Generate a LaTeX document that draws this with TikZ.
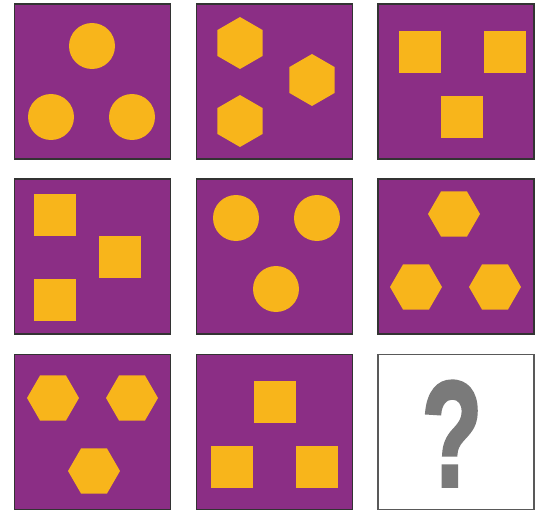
\documentclass[tikz,border=0pt]{standalone}
\usepackage{fontspec}
\usetikzlibrary{shapes.geometric}
\newfontfamily\qfont{Liberation Sans Bold}[FakeBold=2.5]
\definecolor{panelpurple}{HTML}{8B2E85}
\definecolor{shapeyellow}{HTML}{F8B51B}
\definecolor{qgray}{HTML}{7A7A7A}
\tikzset{
  panel/.style={draw=black!80, line width=1.4pt, fill=panelpurple, minimum width=156pt, minimum height=155pt, inner sep=0pt, outer sep=0pt},
  blankpanel/.style={draw=black!65, line width=1.2pt, fill=white, minimum width=156pt, minimum height=155pt, inner sep=0pt, outer sep=0pt},
  disc/.style={circle, fill=shapeyellow, minimum size=46pt, inner sep=0pt, outer sep=0pt},
  sq/.style={rectangle, fill=shapeyellow, minimum size=42pt, inner sep=0pt, outer sep=0pt},
  hexflat/.style={regular polygon, regular polygon sides=6, fill=shapeyellow, minimum size=52pt, inner sep=0pt, outer sep=0pt},
  hexpoint/.style={hexflat, shape border rotate=30}
}
\begin{document}
\begin{tikzpicture}[x=1pt,y=-1pt]
\useasboundingbox (0,0) rectangle (539,511);
% panels
\node[panel] (p1) at (92.5,81.5) {};
\node[panel] (p2) at (274.5,81.5) {};
\node[panel] (p3) at (456,81.5) {};
\node[panel] (p4) at (92.5,256.5) {};
\node[panel] (p5) at (274.5,256.5) {};
\node[panel] (p6) at (456,256.5) {};
\node[panel] (p7) at (92.5,432) {};
\node[panel] (p8) at (274.5,432) {};
\node[blankpanel] (p9) at (456,432) {};
% panel 1: circles
\node[disc] (a1) at (92,46) {};
\node[disc] (a2) at (51,117) {};
\node[disc] (a3) at (132,117) {};
% panel 2: pointy hexagons
\node[hexpoint] (b1) at (240,43) {};
\node[hexpoint] (b2) at (312,80) {};
\node[hexpoint] (b3) at (240,121) {};
% panel 3: squares
\node[sq] (c1) at (420,52) {};
\node[sq] (c2) at (504.5,52) {};
\node[sq] (c3) at (462,117) {};
% panel 4: squares
\node[sq] (d1) at (55,215) {};
\node[sq] (d2) at (120,257) {};
\node[sq] (d3) at (55,299.5) {};
% panel 5: circles
\node[disc] (e1) at (236,218) {};
\node[disc] (e2) at (317,218) {};
\node[disc] (e3) at (276,289) {};
% panel 6: flat hexagons
\node[hexflat] (f1) at (454,214) {};
\node[hexflat] (f2) at (416,287) {};
\node[hexflat] (f3) at (495,287) {};
% panel 7: flat hexagons
\node[hexflat] (g1) at (53,398) {};
\node[hexflat] (g2) at (132,398) {};
\node[hexflat] (g3) at (94,471) {};
% panel 8: squares
\node[sq] (h1) at (275,402) {};
\node[sq] (h2) at (232,467) {};
\node[sq] (h3) at (317,467) {};
% panel 9: question mark
\node[anchor=base, inner sep=0pt, text=qgray, font=\qfont\fontsize{150}{150}\selectfont] (q) at (452,486) {\scalebox{0.66}[1]{?}};
\end{tikzpicture}
\end{document}
